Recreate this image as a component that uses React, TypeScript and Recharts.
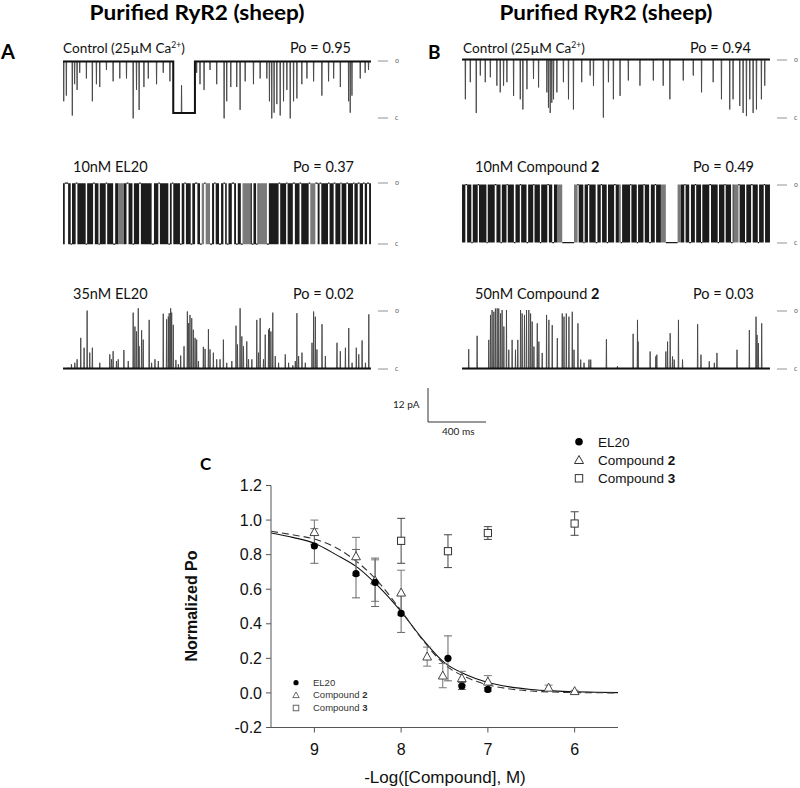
import React from 'react';
import { ComposedChart, LineChart, Line, Area, XAxis, YAxis, Scatter, ErrorBar } from 'recharts';

// ---------- trace constants ----------
const TRACE_MS = 2120; // duration shown in each record (ms)
const OPEN_PA = 20;    // open level (pA)
const CLOSED_PA = 0;   // closed level (pA)

// Row 1 (control): brief closing events from the open level  [time ms, current pA]
const ctrlA_events: [number, number][] = [
  [5,6],[23,8],[64,1],[80,12],[97,10],[115,16],[161,14],[202,6],[230,12],[253,11],[299,17],[345,13],[391,14],[437,14],
  [483,0],[506,10],[524,3],[557,11],[587,14],[644,12],[690,16],[736,13],[816,11.6],[920,16],[943,12],[971,10],[1012,17],
  [1058,12],[1109,0],[1127,6],[1155,11],[1196,11],[1219,3],[1254,13],[1311,12],[1357,14],[1403,14],[1421,6],[1437,0],
  [1453,2],[1472,5],[1495,1],[1518,6],[1541,10],[1564,0],[1587,6],[1610,7],[1644,12],[1679,14],[1725,13],[1782,8],
  [1828,13],[1863,14],[1909,11],[1966,6],[1977,2],[1989,8],[2046,14],[2080,16],[2103,17]
];
// long sub-conductance dwell in control A  [start ms, end ms, level pA]
const ctrlA_dwells: [number, number, number][] = [[759, 908, 1.9]];

const ctrlB_events: [number, number][] = [
  [23,6.3],[57,12.2],[98,1.6],[126,14.5],[160,12.2],[195,13.9],[240,11],[263,8.7],[286,11],[309,12.2],[355,7.5],[401,6.3],
  [419,2.8],[447,9.8],[492,13.3],[527,10.4],[584,8.7],[595,3.4],[607,1.6],[618,5.1],[630,6.3],[653,8.7],[698,12.2],
  [733,6.3],[767,2.8],[824,12.2],[882,14.5],[905,11],[973,0],[1008,12.2],[1042,6.3],[1088,7.5],[1145,12.8],[1225,11],
  [1317,12.8],[1385,11],[1431,6.3],[1523,12.8],[1592,14.5],[1649,8.7],[1729,12.2],[1786,6.3],[1843,2.8],[1866,6.3],
  [1912,4],[1935,1.6],[1958,0.5],[1981,6.3],[2004,1.6],[2027,2.8],[2061,6.3],[2084,11]
];

// Row 2 (10 nM): dense flickering; listed are the quiet stretches [start ms, end ms, level pA]
const el20_10_quiet: [number, number, number][] = [
  [12,35,20],[53,62,0],[87,99,20],[156,166,0],[207,219,20],[244,253,0],[294,304,20],[345,359,0],[437,451,20],[478,488,0],
  [524,536,20],[610,626,0],[656,667,20],[725,736,0],[748,759,20],[805,817,0],[835,846,20],[879,890,0],[909,925,20],
  [943,955,0],[971,982,20],[1012,1026,0],[1040,1051,20],[1074,1088,0],[1104,1116,20],[1127,1139,0],[1162,1178,20],
  [1191,1203,0],[1224,1237,0],[1300,1311,0],[1329,1339,0],[1403,1417,0],[1484,1495,20],[1536,1546,20],[1582,1596,20],
  [1628,1640,20],[1691,1702,20],[1737,1753,20],[1766,1778,20],[1824,1835,20],[1863,1875,20],[1909,1918,20],
  [1950,1962,20],[1996,2006,20],[2029,2042,20],[2065,2077,20],[2093,2107,20]
];
// stretches of sparser flicker (drawn grey)
const el20_10_sparse: [number, number][] = [[380,420],[955,1010],[1240,1290],[1345,1400],[1700,1737]];

const cmp2_10_quiet: [number, number, number][] = [
  [23,35,20],[64,74,0],[108,117,20],[168,177,0],[225,237,20],[265,274,0],[306,315,20],[357,368,0],[398,407,20],
  [444,455,0],[490,499,20],[536,545,0],[587,598,20],[621,633,0],[690,771,0],[794,803,20],[835,844,0],[867,876,20],
  [920,932,0],[955,964,20],[996,1005,0],[1047,1058,20],[1093,1102,0],[1157,1166,20],[1203,1212,0],[1249,1258,20],
  [1288,1300,0],[1327,1336,20],[1403,1484,0],[1530,1539,20],[1564,1576,0],[1603,1612,20],[1645,1654,0],[1702,1714,20],
  [1760,1769,0],[1806,1815,20],[1852,1863,0],[1902,1911,20],[1948,1957,0],[1990,2001,20],[2036,2045,0],[2077,2086,20]
];
const cmp2_10_sparse: [number, number][] = [[656,690],[771,790],[1080,1093],[1369,1403],[1484,1507],[1870,1900]];

// Row 3 (high dose): brief openings from the closed level [time ms, current pA]
const el20_35_events: [number, number][] = [
  [35,0.3],[58,1.5],[81,2.0],[97,3.2],[122,10.6],[145,7.2],[166,20.0],[184,5.5],[202,7.2],[253,2.0],[322,4.9],[334,3.2],
  [345,6.0],[368,2.6],[380,3.2],[419,6.4],[449,2.6],[483,19.3],[495,14.5],[506,12.8],[518,20.8],[524,7.7],[541,13.2],
  [552,10.0],[593,16.8],[610,2.0],[633,3.2],[656,2.6],[690,18.9],[713,17.0],[725,17.9],[731,19.1],[741,20.8],[748,19.3],
  [759,15.1],[777,3.0],[794,1.5],[810,4.5],[833,7.7],[856,19.7],[865,15.7],[874,18.5],[886,17.4],[897,13.4],[909,10.6],
  [920,10.0],[932,2.6],[966,7.5],[978,6.8],[1001,13.6],[1012,6.6],[1035,5.5],[1058,3.2],[1081,3.2],[1104,10.0],
  [1127,2.0],[1162,2.6],[1191,14.8],[1201,8.3],[1219,20.8],[1231,11.1],[1242,7.7],[1265,9.4],[1277,3.2],[1300,3.2],
  [1334,16.8],[1346,5.5],[1357,17.4],[1380,3.2],[1392,11.7],[1415,13.4],[1421,14.0],[1431,12.8],[1444,19.3],[1461,4.3],
  [1484,2.0],[1530,4.9],[1553,2.0],[1582,1.1],[1599,2.6],[1610,19.1],[1622,4.3],[1645,5.5],[1668,2.0],[1714,8.9],
  [1725,19.7],[1737,17.9],[1748,6.6],[1783,15.3],[1806,4.3],[1886,8.9],[1909,6.0],[1944,7.2],[1967,14.0],[1990,2.0],
  [2019,7.2],[2036,4.9],[2059,9.7],[2082,2.0],[2105,18.7]
];
const cmp2_50_events: [number, number][] = [
  [46,6.7],[104,11.3],[184,9.9],[196,18.5],[207,20.2],[219,19.6],[230,20.7],[242,20.8],[253,20.7],[265,19.0],[276,20.2],
  [288,14.5],[306,20.2],[322,6.5],[345,9.9],[368,6.5],[384,9.9],[403,20.2],[414,19.0],[430,18.5],[444,20.2],[460,20.2],
  [472,19.0],[483,16.2],[495,7.6],[518,15.6],[529,9.3],[552,5.4],[582,18.5],[598,16.8],[621,15.0],[656,10.5],[690,19.0],
  [702,17.9],[718,19.0],[736,17.9],[759,19.6],[771,6.5],[798,15.6],[817,3.1],[840,2.0],[874,3.1],[886,3.1],[994,10.1],
  [1070,0.8],[1178,12.0],[1208,16.8],[1212,9.3],[1295,5.9],[1334,4.2],[1341,4.8],[1403,5.9],[1415,9.3],[1433,12.2],
  [1449,4.2],[1461,3.1],[1490,16.8],[1518,3.1],[1622,15.3],[1645,4.8],[1702,2.5],[1737,2.0],[1755,5.4],[1893,6.5],
  [1978,13.3],[2024,17.9],[2031,11.6],[2040,8.8],[2063,15.6]
];

// scale bar values
const scaleBarPA = 12;
const scaleBarMS = 400;

// ---------- panel C data ----------
const el20X = [9, 8.52, 8.3, 8, 7.46, 7.3, 7];
const el20Y = [0.85, 0.69, 0.64, 0.46, 0.20, 0.04, 0.02];
const el20Err = [0.10, 0.14, 0.14, 0.11, 0.13, 0.02, 0.01];
const cmp2X = [9, 8.52, 8.3, 8, 7.7, 7.52, 7.3, 7, 6.3, 6];
const cmp2Y = [0.93, 0.79, 0.65, 0.58, 0.21, 0.10, 0.085, 0.065, 0.03, 0.01];
const cmp2Err = [0.07, 0.11, 0.12, 0.13, 0.055, 0.07, 0.04, 0.035, 0.015, 0.005];
const cmp3X = [8, 7.46, 7, 6];
const cmp3Y = [0.88, 0.82, 0.925, 0.98];
const cmp3Err = [0.13, 0.095, 0.037, 0.068];
const fitX = [9.5, 9.25, 9.0, 8.75, 8.5, 8.25, 8.0, 7.75, 7.5, 7.25, 7.0, 6.75, 6.5, 6.25, 6.0, 5.75, 5.5];
const fitEl20Y = [0.925, 0.90, 0.866, 0.80, 0.725, 0.61, 0.47, 0.31, 0.175, 0.105, 0.06, 0.035, 0.02, 0.012, 0.007, 0.004, 0.002];
const fitCmp2Y = [0.935, 0.915, 0.89, 0.84, 0.755, 0.635, 0.475, 0.305, 0.165, 0.09, 0.047, 0.023, 0.011, 0.005, 0.002, 0.001, 0.0];
const yTicks = [-0.2, 0, 0.2, 0.4, 0.6, 0.8, 1.0, 1.2];
const xTicks = [9, 8, 7, 6];

// ---------- builders ----------
type SP = { t: number; i: number; b: number };
function buildEventTrace(events: [number, number][], base: number, dwells: [number, number, number][] = []): SP[] {
  const baseAt = (t: number) => {
    for (const [s, e, l] of dwells) if (t > s && t < e) return l;
    return base;
  };
  const ev: { t: number; k: string; l: number }[] = [];
  events.forEach(([t, l]) => ev.push({ t, k: 's', l }));
  dwells.forEach(([s, e, l]) => { ev.push({ t: s, k: 'ds', l }); ev.push({ t: e, k: 'de', l }); });
  ev.sort((a, b) => a.t - b.t);
  const pts: SP[] = [{ t: 0, i: baseAt(0), b: baseAt(0) }];
  for (const e of ev) {
    if (e.k === 's') {
      const b0 = baseAt(e.t);
      pts.push({ t: e.t - 2, i: b0, b: b0 }, { t: e.t, i: e.l, b: b0 }, { t: e.t + 2, i: b0, b: b0 });
    } else if (e.k === 'ds') {
      pts.push({ t: e.t, i: base, b: base }, { t: e.t, i: e.l, b: e.l });
    } else {
      pts.push({ t: e.t, i: e.l, b: e.l }, { t: e.t, i: base, b: base });
    }
  }
  pts.push({ t: TRACE_MS, i: baseAt(TRACE_MS), b: baseAt(TRACE_MS) });
  return pts;
}

function buildBurstTrace(quiet: [number, number, number][], sparse: [number, number][]) {
  const cuts = new Set<number>([0, TRACE_MS]);
  quiet.forEach(([s, e]) => { cuts.add(s); cuts.add(e); });
  sparse.forEach(([s, e]) => { cuts.add(s); cuts.add(e); });
  const c = Array.from(cuts).sort((a, b) => a - b);
  const pts: any[] = [];
  for (let k = 0; k < c.length - 1; k++) {
    const a = c[k], b = c[k + 1], m = (a + b) / 2;
    const q = quiet.find(([s, e]) => m > s && m < e);
    const sp = sparse.some(([s, e]) => m > s && m < e);
    const mk = (t: number) =>
      q ? { t, blk: null, gry: null, lvl: q[2] }
        : sp ? { t, blk: null, gry: [CLOSED_PA, OPEN_PA], lvl: null }
          : { t, blk: [CLOSED_PA, OPEN_PA], gry: null, lvl: null };
    pts.push(mk(a), mk(b));
  }
  return pts;
}

const ctrlA = buildEventTrace(ctrlA_events, OPEN_PA, ctrlA_dwells);
const ctrlB = buildEventTrace(ctrlB_events, OPEN_PA);
const el20_35 = buildEventTrace(el20_35_events, CLOSED_PA);
const cmp2_50 = buildEventTrace(cmp2_50_events, CLOSED_PA);
const el20_10 = buildBurstTrace(el20_10_quiet, el20_10_sparse);
const cmp2_10 = buildBurstTrace(cmp2_10_quiet, cmp2_10_sparse);

const el20Pts = el20X.map((x, k) => ({ x, y: el20Y[k], e: el20Err[k] }));
const cmp2Pts = cmp2X.map((x, k) => ({ x, y: cmp2Y[k], e: cmp2Err[k] }));
const cmp3Pts = cmp3X.map((x, k) => ({ x, y: cmp3Y[k], e: cmp3Err[k] }));
const fitEl20 = fitX.map((x, k) => ({ x, y: fitEl20Y[k] }));
const fitCmp2 = fitX.map((x, k) => ({ x, y: fitCmp2Y[k] }));
const scaleBarData = [{ t: 0, i: scaleBarPA }, { t: 0, i: 0 }, { t: scaleBarMS, i: 0 }];

// ---------- layout ----------
const TRACE_W = 308;
const COL_A = 63;
const COL_B = 462;
const LO = -4, HI = 24;
const CAL = "Lato, 'Open Sans', sans-serif";
const ARI = "'Liberation Sans', Arial, sans-serif";

function Trace({ data, left, openY, closedY, burst }: any) {
  const ppp = (closedY - openY) / (OPEN_PA - CLOSED_PA);
  const top = openY - (HI - OPEN_PA) * ppp;
  const height = (HI - LO) * ppp;
  return (
    <div style={{ position: 'absolute', left, top, width: TRACE_W, height }}>
      <ComposedChart width={TRACE_W} height={height} data={data} margin={{ top: 0, right: 0, bottom: 0, left: 0 }}>
        <XAxis dataKey="t" type="number" domain={[0, TRACE_MS]} hide allowDataOverflow />
        <YAxis type="number" domain={[LO, HI]} hide allowDataOverflow width={0} />
        {burst ? (
          <>
            <Area dataKey="gry" type="linear" fill="#7a7a7a" fillOpacity={1} stroke="none" isAnimationActive={false} />
            <Area dataKey="blk" type="linear" fill="#1c1c1c" fillOpacity={1} stroke="none" isAnimationActive={false} />
            <Line dataKey="lvl" type="linear" stroke="#1c1c1c" strokeWidth={1.3} dot={false} isAnimationActive={false} />
          </>
        ) : (
          <>
            <Line dataKey="i" type="linear" stroke="#444" strokeWidth={0.9} dot={false} isAnimationActive={false} />
            <Line dataKey="b" type="linear" stroke="#111" strokeWidth={2} dot={false} isAnimationActive={false} />
          </>
        )}
      </ComposedChart>
    </div>
  );
}

const Circ = (p: any) => <circle cx={p.cx} cy={p.cy} r={3.6} fill="#000" />;
const Tri = (p: any) => (
  <polygon points={`${p.cx},${p.cy - 4.6} ${p.cx - 4.4},${p.cy + 3.4} ${p.cx + 4.4},${p.cy + 3.4}`} fill="#fff" stroke="#444" strokeWidth={1} />
);
const Sq = (p: any) => <rect x={p.cx - 3.6} y={p.cy - 3.6} width={7.2} height={7.2} fill="#fff" stroke="#333" strokeWidth={1} />;

function LevelMarks({ x, openY, closedY }: any) {
  return (
    <g>
      <line x1={x} x2={x + 10} y1={openY} y2={openY} stroke="#777" strokeWidth={0.8} />
      <line x1={x} x2={x + 10} y1={closedY} y2={closedY} stroke="#777" strokeWidth={0.8} />
      <text x={x + 17} y={openY + 2} fontSize={7} fill="#666" fontFamily={CAL}>o</text>
      <text x={x + 17} y={closedY + 2} fontSize={7} fill="#666" fontFamily={CAL}>c</text>
    </g>
  );
}

function Overlay() {
  const lab = { fontFamily: CAL, fontSize: 14.5, fill: '#111' } as any;
  const ctl = { fontFamily: CAL, fontSize: 13.6, fill: '#111' } as any;
  return (
    <svg width={800} height={788} style={{ position: 'absolute', left: 0, top: 0 }}>
      <text x={197} y={20} textAnchor="middle" fontFamily={CAL} fontWeight={700} fontSize={21} textLength={215} lengthAdjust="spacingAndGlyphs">Purified RyR2 (sheep)</text>
      <text x={606} y={20} textAnchor="middle" fontFamily={CAL} fontWeight={700} fontSize={21} textLength={213} lengthAdjust="spacingAndGlyphs">Purified RyR2 (sheep)</text>
      <text x={1} y={59} fontFamily={CAL} fontWeight={700} fontSize={20}>A</text>
      <text x={428} y={59} fontFamily={CAL} fontWeight={700} fontSize={19}>B</text>
      <text x={200} y={470} fontFamily={CAL} fontWeight={700} fontSize={17}>C</text>

      <text x={63} y={52.5} {...ctl}>Control (25µM Ca<tspan dy={-5} fontSize={8.5}>2+</tspan><tspan dy={5}>)</tspan></text>
      <text x={290} y={52.5} {...lab}>Po = 0.95</text>
      <text x={73} y={171.5} {...lab}>10nM EL20</text>
      <text x={293} y={171.5} {...lab}>Po = 0.37</text>
      <text x={73} y={299} {...lab}>35nM EL20</text>
      <text x={293} y={299} {...lab}>Po = 0.02</text>

      <text x={463} y={52.5} {...ctl}>Control (25µM Ca<tspan dy={-5} fontSize={8.5}>2+</tspan><tspan dy={5}>)</tspan></text>
      <text x={690} y={52.5} {...lab}>Po = 0.94</text>
      <text x={475} y={171.5} {...lab}>10nM Compound <tspan fontWeight={700}>2</tspan></text>
      <text x={693} y={171.5} {...lab}>Po = 0.49</text>
      <text x={475} y={299} {...lab}>50nM Compound <tspan fontWeight={700}>2</tspan></text>
      <text x={693} y={299} {...lab}>Po = 0.03</text>

      <LevelMarks x={378} openY={61} closedY={118} />
      <LevelMarks x={777} openY={60} closedY={118} />
      <LevelMarks x={378} openY={183} closedY={244} />
      <LevelMarks x={777} openY={185} closedY={243} />
      <LevelMarks x={378} openY={311} closedY={369} />
      <LevelMarks x={777} openY={311} closedY={369} />

      <text x={393} y={407.5} fontFamily={CAL} fontSize={10} fill="#222">12 pA</text>
      <text x={442} y={435} fontFamily={CAL} fontSize={10} fill="#222">400 ms</text>

      {/* top-right legend */}
      <circle cx={579} cy={441.7} r={3.8} fill="#000" />
      <polygon points={`579,455.5 574.5,463.5 583.5,463.5`} fill="#fff" stroke="#333" />
      <rect x={575.3} y={474.6} width={7.4} height={7.4} fill="#fff" stroke="#333" />
      <text x={598} y={446.5} fontFamily={ARI} fontSize={13.5} fill="#111">EL20</text>
      <text x={598} y={464.8} fontFamily={ARI} fontSize={13.5} fill="#111">Compound <tspan fontWeight={700}>2</tspan></text>
      <text x={598} y={483.1} fontFamily={ARI} fontSize={13.5} fill="#111">Compound <tspan fontWeight={700}>3</tspan></text>

      {/* inner legend */}
      <circle cx={296} cy={682.7} r={2.6} fill="#000" />
      <polygon points={`296,692 292.8,697.6 299.2,697.6`} fill="#fff" stroke="#444" strokeWidth={0.8} />
      <rect x={293.2} y={705.2} width={5.6} height={5.6} fill="#fff" stroke="#444" strokeWidth={0.8} />
      <text x={313} y={686} fontFamily={ARI} fontSize={9.5} fill="#333">EL20</text>
      <text x={313} y={698.3} fontFamily={ARI} fontSize={9.5} fill="#333">Compound <tspan fontWeight={700}>2</tspan></text>
      <text x={313} y={711.3} fontFamily={ARI} fontSize={9.5} fill="#333">Compound <tspan fontWeight={700}>3</tspan></text>

      <text transform="translate(197,606) rotate(-90)" textAnchor="middle" fontFamily={ARI} fontWeight={700} fontSize={16} fill="#111">Normalized Po</text>
      <text x={445} y={783} textAnchor="middle" fontFamily={ARI} fontSize={17} fill="#111">-Log([Compound], M)</text>
    </svg>
  );
}

export default function App() {
  return (
    <div style={{ position: 'absolute', left: 0, top: 0, width: 800, height: 788, background: '#fff', overflow: 'hidden' }}>
      <Overlay />
      <Trace data={ctrlA} left={COL_A} openY={61} closedY={118} />
      <Trace data={ctrlB} left={COL_B} openY={60} closedY={118} />
      <Trace data={el20_10} left={COL_A} openY={183} closedY={244} burst />
      <Trace data={cmp2_10} left={COL_B} openY={185} closedY={243} burst />
      <Trace data={el20_35} left={COL_A} openY={311} closedY={369} />
      <Trace data={cmp2_50} left={COL_B} openY={311} closedY={369} />

      <div style={{ position: 'absolute', left: 423, top: 383 }}>
        <LineChart width={68} height={44} data={scaleBarData} margin={{ top: 5, right: 5, bottom: 5, left: 5 }}>
          <XAxis dataKey="t" type="number" domain={[0, scaleBarMS]} hide />
          <YAxis type="number" domain={[0, scaleBarPA]} hide width={0} />
          <Line dataKey="i" type="linear" stroke="#333" strokeWidth={1} dot={false} isAnimationActive={false} />
        </LineChart>
      </div>

      <div style={{ position: 'absolute', left: 140, top: 470 }}>
        <ComposedChart width={520} height={318} margin={{ top: 15.5, right: 42, bottom: 30.5, left: 81 }}>
          <XAxis dataKey="x" type="number" domain={[5.5, 9.5]} reversed allowDataOverflow ticks={xTicks} height={30}
            tickSize={5} tickMargin={11} axisLine={{ stroke: '#555' }} tickLine={{ stroke: '#555' }}
            tick={{ fontSize: 16, fill: '#111', fontFamily: ARI }} />
          <YAxis dataKey="y" type="number" domain={[-0.2, 1.2]} allowDataOverflow ticks={yTicks} width={50}
            tickSize={5} tickMargin={4} axisLine={{ stroke: '#555' }} tickLine={{ stroke: '#555' }}
            tickFormatter={(v: number) => v.toFixed(1)} tick={{ fontSize: 16, fill: '#111', fontFamily: ARI }} />
          <Line data={fitEl20} dataKey="y" type="monotone" stroke="#111" strokeWidth={1.1} dot={false} isAnimationActive={false} />
          <Line data={fitCmp2} dataKey="y" type="monotone" stroke="#333" strokeWidth={1.1} strokeDasharray="7 4" dot={false} isAnimationActive={false} />
          <Scatter data={cmp3Pts} dataKey="y" shape={Sq} isAnimationActive={false}>
            <ErrorBar dataKey="e" direction="y" width={4} stroke="#444" strokeWidth={1} />
          </Scatter>
          <Scatter data={cmp2Pts} dataKey="y" shape={Tri} isAnimationActive={false}>
            <ErrorBar dataKey="e" direction="y" width={4} stroke="#777" strokeWidth={1} />
          </Scatter>
          <Scatter data={el20Pts} dataKey="y" shape={Circ} isAnimationActive={false}>
            <ErrorBar dataKey="e" direction="y" width={4} stroke="#666" strokeWidth={1} />
          </Scatter>
        </ComposedChart>
      </div>
    </div>
  );
}
